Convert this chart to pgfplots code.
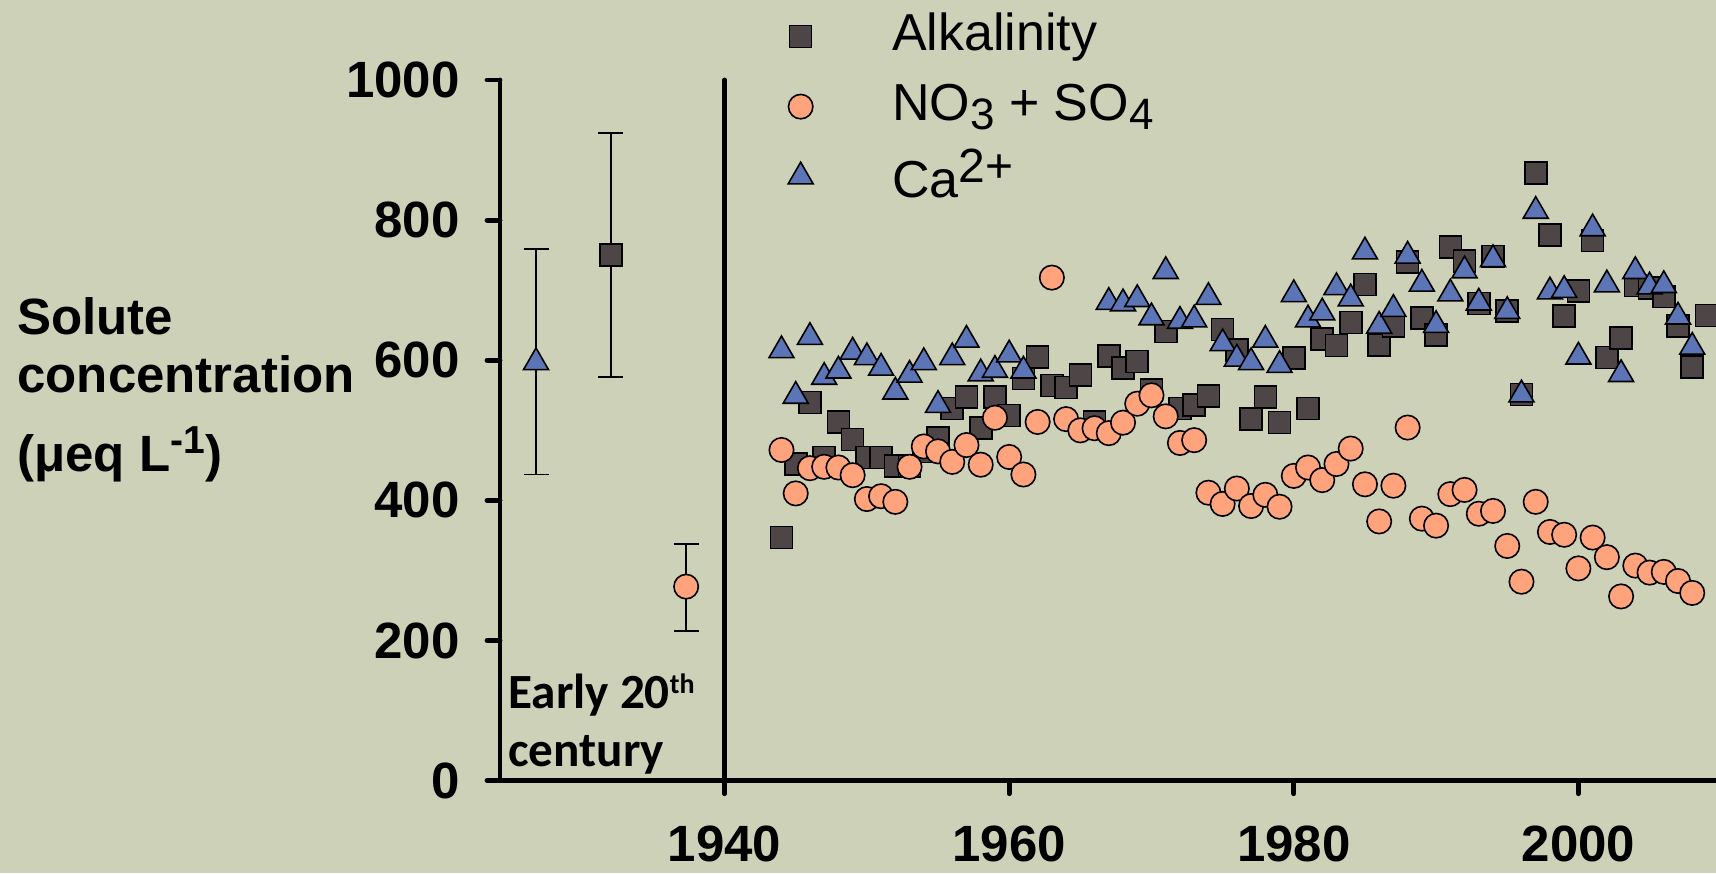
\documentclass[border=0pt]{standalone}
\usepackage{fontspec}
\setmainfont{Liberation Sans}
\newfontfamily\calibri{Carlito}
\usepackage{pgfplots}
\usepackage{pgfplotstable}
\pgfplotsset{compat=1.18}

\definecolor{bg}{RGB}{205,209,184}
\definecolor{sqcol}{RGB}{78,70,70}
\definecolor{circcol}{RGB}{255,163,125}
\definecolor{tricol}{RGB}{92,117,182}

% yearly data
\pgfplotstableread{
year val
1944 347
1945 452
1946 540
1947 461
1948 512
1949 487
1950 461
1951 461
1952 449
1953 449
1954 470
1955 489
1956 531
1957 548
1958 503
1959 548
1960 521
1961 574
1962 605
1963 564
1964 561
1965 579
1966 512
1967 606
1968 589
1969 598
1970 558
1971 641
1972 531
1973 536
1974 549
1975 644
1976 615
1977 516
1978 548
1979 511
1980 603
1981 531
1982 630
1983 621
1984 654
1985 708
1986 622
1987 649
1988 740
1989 660
1990 636
1991 762
1992 742
1993 681
1994 748
1995 670
1996 551
1997 867
1998 779
1999 663
2000 699
2001 771
2002 604
2003 632
2004 707
2005 703
2006 691
2007 649
2008 590
2009 664
}\alkalinity

\pgfplotstableread{
year val
1944 472
1945 410
1946 446
1947 448
1948 447
1949 436
1950 402
1951 406
1952 398
1953 448
1954 477
1955 470
1956 455
1957 479
1958 451
1959 518
1960 462
1961 437
1962 512
1963 718
1964 516
1965 500
1966 503
1967 496
1968 511
1969 538
1970 550
1971 520
1972 482
1973 486
1974 411
1975 395
1976 417
1977 392
1978 408
1979 391
1980 435
1981 447
1982 429
1983 452
1984 474
1985 423
1986 370
1987 421
1988 504
1989 374
1990 364
1991 409
1992 415
1993 381
1994 385
1995 335
1996 284
1997 398
1998 355
1999 351
2000 303
2001 347
2002 319
2003 263
2004 307
2005 297
2006 298
2007 285
2008 268
}\nitsul

\pgfplotstableread{
year val
1944 614
1945 549
1946 633
1947 576
1948 585
1949 612
1950 604
1951 589
1952 555
1953 579
1954 597
1955 536
1956 604
1957 629
1958 581
1959 586
1960 608
1961 585
1967 683
1968 681
1969 687
1970 661
1971 727
1972 656
1973 658
1974 690
1975 624
1976 602
1977 597
1978 629
1979 593
1980 694
1981 658
1982 668
1983 704
1984 688
1985 755
1986 649
1987 673
1988 749
1989 709
1990 650
1991 695
1992 728
1993 682
1994 744
1995 670
1996 551
1997 813
1998 698
1999 700
2000 605
2001 788
2002 708
2003 580
2004 727
2005 705
2006 707
2007 662
2008 619
}\calcium

\begin{document}
\begin{tikzpicture}
\path[use as bounding box, fill=bg] (0,0) rectangle (858pt,436.5pt);
\begin{axis}[
    at={(250pt,46.15pt)}, anchor=south west,
    scale only axis, width=613.9pt, height=350.35pt,
    xmin=1924.22, xmax=2010.5, ymin=0, ymax=1000,
    clip=false,
    axis x line=bottom, axis y line=left,
    axis line style={-, line width=2.4pt, line cap=round},
    xtick={1940,1960,1980,2000},
    ytick={0,200,...,1000},
    tick align=outside, major tick length=6.5pt,
    tick style={line width=2.4pt, line cap=round, black},
    /pgf/number format/1000 sep={},
    /pgf/number format/assume math mode=true,
    ticklabel style={font=\bfseries\fontsize{25.5}{30}\selectfont},
    yticklabel style={inner xsep=13.5pt, inner ysep=0pt},
    xticklabel style={inner ysep=16pt, inner xsep=0pt},
    legend style={draw=none, fill=none, at={(0.2344,0.962)}, anchor=west,
      font=\fontsize{26}{30}\selectfont, row sep=9pt, inner sep=0pt,
      nodes={inner sep=0pt, text height=20pt, text depth=6pt},
      /tikz/every odd column/.append style={column sep=39.5pt}},
    legend cell align=left,
    error bars/error bar style={line width=0.8pt, black},
    error bars/error mark options={rotate=90, mark size=6.25pt, line width=0.8pt, black},
]
% early 20th century means with ranges
\addplot[forget plot, only marks, mark=triangle*, mark size=7.2pt,
  mark options={fill=tricol, draw=black, line width=0.8pt},
  error bars/.cd, y dir=both, y explicit]
  coordinates {(1926.75,597) += (0,162) -= (0,160)};
\addplot[forget plot, only marks, mark=square*, mark size=5.5pt,
  mark options={fill=sqcol, draw=black, line width=0.8pt},
  error bars/.cd, y dir=both, y explicit]
  coordinates {(1932,750) += (0,174) -= (0,174)};
\addplot[forget plot, only marks, mark=*, mark size=6.1pt,
  mark options={fill=circcol, draw=black, line width=0.8pt},
  error bars/.cd, y dir=both, y explicit]
  coordinates {(1937.3,277) += (0,61) -= (0,63)};

\addplot[only marks, mark=square*, mark size=5.5pt,
  mark options={fill=sqcol, draw=black, line width=0.8pt}]
  table[x=year, y=val] {\alkalinity};
\addlegendentry{Alkalinity}
\addplot[only marks, mark=*, mark size=6.1pt,
  mark options={fill=circcol, draw=black, line width=0.8pt}]
  table[x=year, y=val] {\nitsul};
\addlegendentry{NO\raisebox{-4.3pt}{\fontsize{22}{22}\selectfont 3} + SO\raisebox{-4.3pt}{\fontsize{22}{22}\selectfont 4}}
\addplot[only marks, mark=triangle*, mark size=7.2pt,
  mark options={fill=tricol, draw=black, line width=0.8pt}]
  table[x=year, y=val] {\calcium};
\addlegendentry{\raisebox{-3.3pt}{Ca\raisebox{7.5pt}{\fontsize{24}{24}\selectfont 2+}}}

\draw[line width=2.4pt, line cap=round] (axis cs:1940,0) -- (axis cs:1940,1000);
\end{axis}

\begin{scope}[every node/.style={anchor=base west, inner sep=0pt}]
\node[font=\bfseries\fontsize{25.5}{30}\selectfont] at (8.5pt,269pt) {Solute};
\node[font=\bfseries\fontsize{25.5}{30}\selectfont] at (8.5pt,240pt) {concentration};
\node[font=\bfseries\fontsize{25.5}{30}\selectfont] at (8.5pt,200.5pt)
  {(μeq L\raisebox{9pt}{\fontsize{19.5}{20}\selectfont -1})};
\node[font=\calibri\bfseries\fontsize{24.6}{28}\selectfont] at (254pt,82.5pt)
  {Early 20\raisebox{7.5pt}{\fontsize{14}{14}\selectfont th}};
\node[font=\calibri\bfseries\fontsize{24.6}{28}\selectfont] at (254pt,53.5pt) {century};
\end{scope}
\end{tikzpicture}
\end{document}
